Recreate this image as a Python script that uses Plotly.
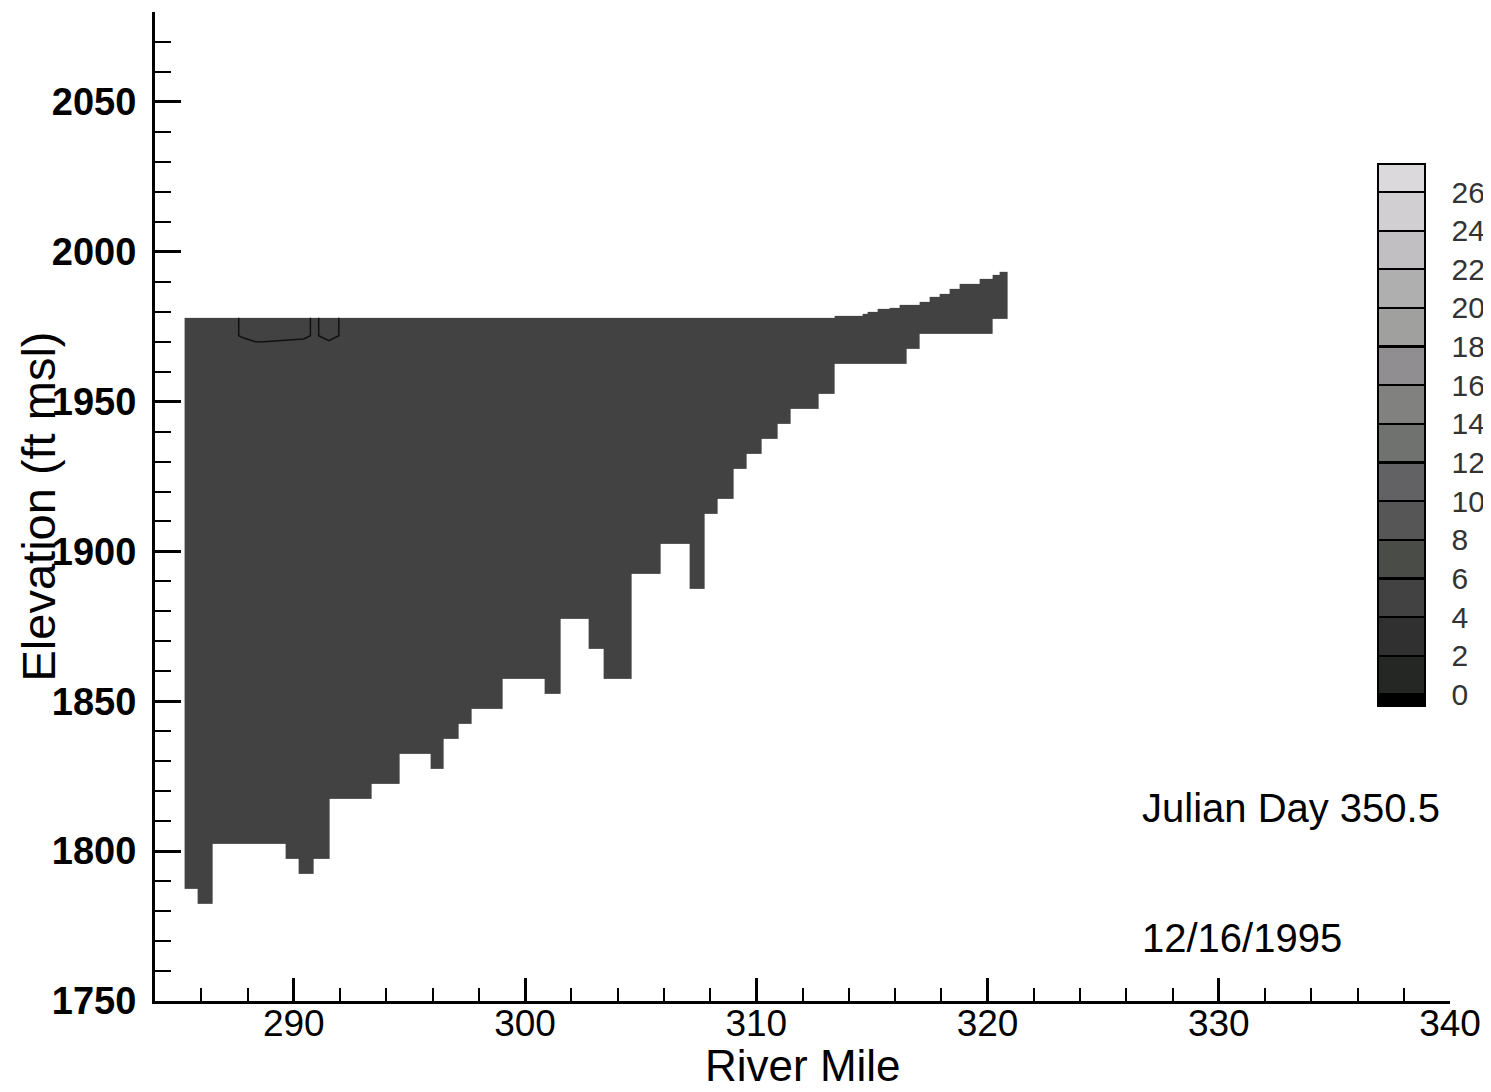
import numpy as np
import plotly.graph_objects as go

# ---------------- data ----------------
# model segment edges along the river (River Mile) and bottom elevation of each segment (ft msl)
seg_edges = [285.28, 285.86, 286.51, 289.64, 290.22, 290.87, 291.53, 293.35, 294.58, 295.92,
             296.48, 297.14, 297.71, 299.03, 300.85, 301.52, 302.74, 303.41, 304.63, 305.87,
             307.10, 307.76, 308.34, 309.00, 309.58, 310.25, 310.91, 311.49, 312.70, 313.38,
             316.51, 317.07, 320.20, 320.88]
bottom_elev = [1787.5, 1782.5, 1802.5, 1797.5, 1792.5, 1797.5, 1817.5, 1822.5, 1832.5, 1827.5,
               1837.5, 1842.5, 1847.5, 1857.5, 1852.5, 1877.5, 1867.5, 1857.5, 1892.5, 1902.5,
               1887.5, 1912.5, 1917.5, 1927.5, 1932.5, 1937.5, 1942.5, 1947.5, 1952.5, 1962.5,
               1967.5, 1972.5, 1977.5]

# water surface profile (stepped) : edges (River Mile) and elevation (ft msl)
surf_edges = [285.28, 313.38, 314.60, 314.82, 315.25, 315.76, 316.19, 317.06, 317.49, 317.92,
              318.35, 318.79, 319.65, 320.23, 320.52, 320.88]
surf_elev = [1978.0, 1978.7, 1979.4, 1980.1, 1980.8, 1981.4, 1982.2, 1983.4, 1984.8, 1986.1,
             1987.6, 1989.4, 1990.9, 1992.3, 1993.3]

# water temperature in the reservoir (deg C) for Julian day 350.5
water_temp = 5.0

# 6 deg C isotherm near the surface (two closed pockets)
contour_x = [287.62, 287.62, 287.84, 288.34, 288.70, 290.43, 290.72, 290.72, None,
             291.08, 291.08, 291.52, 291.95, 291.95]
contour_y = [1978.0, 1972.0, 1971.2, 1970.0, 1970.0, 1970.9, 1972.0, 1978.0, None,
             1978.0, 1972.0, 1970.3, 1972.0, 1978.0]

# colour legend levels and band colours
levels = list(range(0, 28, 2))
band_colors = ["#000000", "#252724", "#303030", "#424242", "#4a4c48", "#565656", "#626163",
               "#707270", "#81827f", "#908e90", "#a0a19e", "#b0afb0", "#c1bfc1", "#d1cfd1",
               "#dcd9dc"]
zmin, zmax = -0.6, 27.45

x_ticks_major = 10
y_ticks_major = 50

# ---------------- build the gridded field ----------------
x_edges = np.unique(np.array(seg_edges + surf_edges))
y_edges = np.unique(np.array(bottom_elev + surf_elev))
xc = 0.5 * (x_edges[:-1] + x_edges[1:])
yc = 0.5 * (y_edges[:-1] + y_edges[1:])
seg_idx = np.clip(np.searchsorted(seg_edges, xc) - 1, 0, len(bottom_elev) - 1)
surf_idx = np.clip(np.searchsorted(surf_edges, xc) - 1, 0, len(surf_elev) - 1)
bot = np.array(bottom_elev)[seg_idx]
top = np.array(surf_elev)[surf_idx]
Z = np.full((len(yc), len(xc)), np.nan)
for j in range(len(xc)):
    inside = (yc >= bot[j]) & (yc <= top[j])
    Z[inside, j] = water_temp

# stepped grey colour scale with thin black separators at each level
def p(v):
    return min(max((v - zmin) / (zmax - zmin), 0.0), 1.0)

hl = 0.06
bounds = [zmin] + levels + [zmax]
cs = []
for i, c in enumerate(band_colors):
    lo, hi = bounds[i], bounds[i + 1]
    lo_a = lo + (hl if i > 0 else 0)
    hi_a = hi - (hl if i < len(band_colors) - 1 else 0)
    cs.append([p(lo_a), c])
    cs.append([p(hi_a), c])
    if i < len(band_colors) - 1:
        cs.append([p(hi - hl), "#000000"])
        cs.append([p(hi + hl), "#000000"])
cs[0][0] = 0.0
cs[-1][0] = 1.0

fig = go.Figure()
fig.add_trace(go.Heatmap(
    x=x_edges, y=y_edges, z=Z, zmin=zmin, zmax=zmax, colorscale=cs,
    hoverinfo="skip", zsmooth=False,
    colorbar=dict(
        x=(1378 - 155) / 1295, xanchor="left", y=(1001 - 164) / 989, yanchor="top",
        thickness=47, thicknessmode="pixels", len=542, lenmode="pixels",
        xpad=0, ypad=0, outlinewidth=2, outlinecolor="#000000",
        tickvals=levels, ticktext=[str(v) for v in levels],
        ticks="outside", ticklen=20, tickcolor="rgba(0,0,0,0)",
        tickfont=dict(family="Liberation Sans, Arial", size=30, color="#333333"),
    ),
))
fig.add_trace(go.Scatter(
    x=contour_x, y=contour_y, mode="lines", line=dict(color="#111111", width=1.5),
    hoverinfo="skip", showlegend=False, connectgaps=False,
))

# the page body has an 8px margin; margins chosen so the plot area sits where the reference's does
fig.update_layout(
    width=1491, height=1084,
    margin=dict(l=147, r=49, t=4, b=91),
    paper_bgcolor="white", plot_bgcolor="white",
    showlegend=False,
    xaxis=dict(
        range=[284, 340], showline=True, linewidth=3, linecolor="black",
        showgrid=False, zeroline=False,
        tick0=290, dtick=x_ticks_major, ticks="inside", ticklen=23, tickwidth=2.5,
        tickcolor="black",
        minor=dict(dtick=2, ticks="inside", ticklen=13, tickwidth=2, tickcolor="black",
                   showgrid=False),
        tickfont=dict(family="Liberation Sans, Arial", size=37, color="black"),
        ticklabelstandoff=-12,
    ),
    yaxis=dict(
        range=[1750, 2080], showline=True, linewidth=3, linecolor="black",
        showgrid=False, zeroline=False,
        tick0=1750, dtick=y_ticks_major, ticks="inside", ticklen=26, tickwidth=2.5,
        tickcolor="black",
        minor=dict(dtick=10, ticks="inside", ticklen=16, tickwidth=2, tickcolor="black",
                   showgrid=False),
        tickfont=dict(family="Liberation Sans, Arial", size=38, color="black", weight="bold"),
        ticklabelstandoff=8,
    ),
    annotations=[
        dict(text="River Mile", xref="paper", yref="paper", x=0.5, y=(1001 - 1065) / 989,
             xanchor="center", yanchor="middle", showarrow=False,
             font=dict(family="Liberation Sans, Arial", size=44, color="black")),
        dict(text="Elevation (ft msl)", xref="paper", yref="paper", x=(38 - 155) / 1295, y=0.5,
             xanchor="center", yanchor="middle", textangle=-90, showarrow=False,
             font=dict(family="Liberation Sans, Arial", size=47, color="black")),
        dict(text="Julian Day 350.5", xref="paper", yref="paper", x=(1140 - 155) / 1295,
             y=(1001 - 808) / 989, xanchor="left", yanchor="middle", showarrow=False,
             font=dict(family="Liberation Sans, Arial", size=40, color="black")),
        dict(text="12/16/1995", xref="paper", yref="paper", x=(1140 - 155) / 1295,
             y=(1001 - 938) / 989, xanchor="left", yanchor="middle", showarrow=False,
             font=dict(family="Liberation Sans, Arial", size=40, color="black")),
    ],
)

fig.write_html("out.html")
